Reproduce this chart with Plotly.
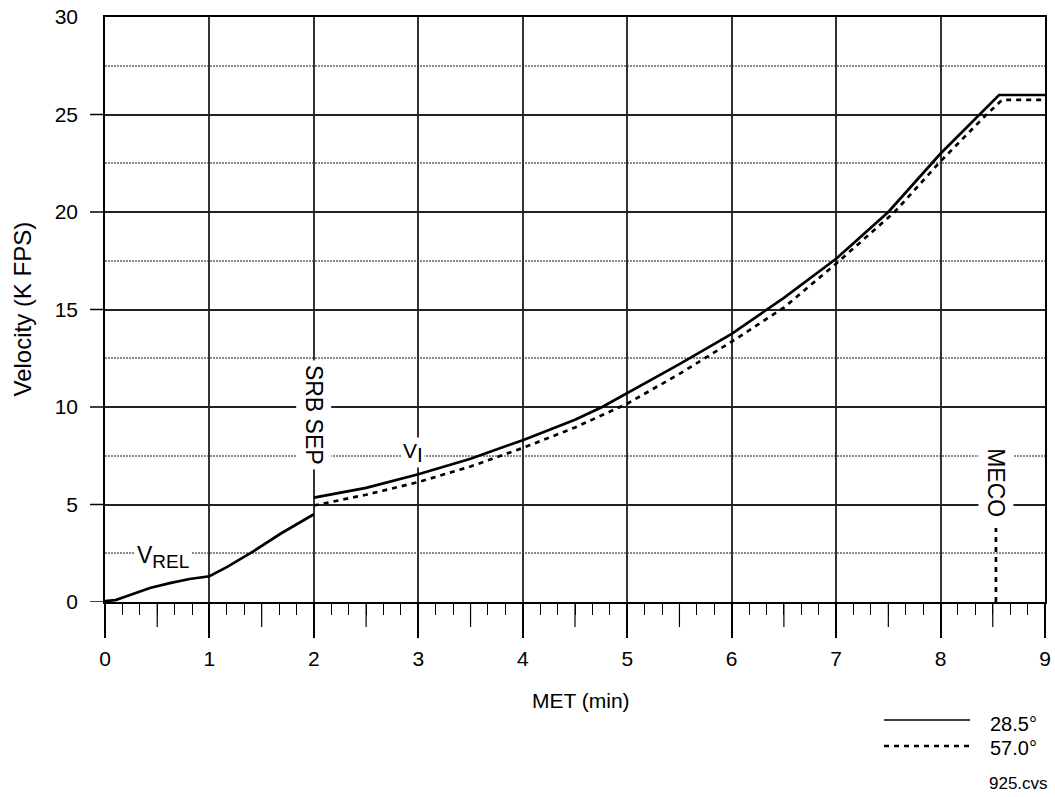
import plotly.graph_objects as go

# ---------------- data ----------------
# V_REL segment (both inclinations identical), 0 -> SRB SEP
vrel_t = [0.0, 0.1, 0.24, 0.43, 0.62, 0.81, 1.0, 1.17, 1.42, 1.68, 2.0]
vrel_v = [0.05, 0.1, 0.36, 0.72, 0.97, 1.18, 1.32, 1.8, 2.6, 3.5, 4.5]

# V_I, 28.5 deg (solid)
vi285_t = [2.0, 2.5, 3.0, 3.5, 4.0, 4.5, 4.76, 5.0, 5.5, 6.0, 6.5, 7.0, 7.5, 8.0, 8.39, 8.56, 9.0]
vi285_v = [5.35, 5.85, 6.55, 7.35, 8.3, 9.35, 10.0, 10.7, 12.2, 13.75, 15.6, 17.6, 20.0, 23.0, 25.1, 26.0, 26.0]

# V_I, 57.0 deg (dotted)
vi570_t = [2.0, 2.5, 3.0, 3.5, 4.0, 4.5, 5.0, 5.5, 6.0, 6.5, 7.0, 7.56, 8.0, 8.44, 8.59, 9.0]
vi570_v = [4.95, 5.5, 6.15, 6.95, 7.9, 8.95, 10.17, 11.7, 13.35, 15.1, 17.35, 20.0, 22.6, 25.0, 25.75, 25.75]

# MECO marker
meco_t = [8.53, 8.53]
meco_v = [0.0, 3.8]

x_ticks = list(range(0, 10))
y_ticks = [0, 5, 10, 15, 20, 25, 30]
y_tick_marks = [0, 5, 10, 15, 20, 25]
half_min_ticks = [k + 0.5 for k in range(9)]

legend_labels = ["28.5°", "57.0°"]

# ---------------- layout helpers ----------------
W, H = 1055, 797
ML, MR, MT, MB = 105, 10, 17, 195
PW, PH = W - ML - MR, H - MT - MB
FONT = "Liberation Sans, Arial, Helvetica, sans-serif"
DOTS = "5px,5px"


def px_x(p):
    return (p - ML) / PW


def px_y(p):
    return (H - MB - p) / PH


fig = go.Figure()

fig.add_trace(go.Scatter(x=vrel_t, y=vrel_v, mode="lines",
                         line=dict(color="black", width=2.7), hoverinfo="skip"))
fig.add_trace(go.Scatter(x=vi570_t, y=vi570_v, mode="lines",
                         line=dict(color="black", width=2.7, dash=DOTS), hoverinfo="skip"))
fig.add_trace(go.Scatter(x=vi285_t, y=vi285_v, mode="lines",
                         line=dict(color="black", width=2.7), hoverinfo="skip"))
fig.add_trace(go.Scatter(x=meco_t, y=meco_v, mode="lines",
                         line=dict(color="black", width=2.7, dash=DOTS), hoverinfo="skip"))

shapes = []
# y tick marks (15 px, none at 30)
for v in y_tick_marks:
    shapes.append(dict(type="line", xref="paper", yref="y", xsizemode="pixel", xanchor=0,
                       x0=-15, x1=0, y0=v, y1=v, line=dict(color="black", width=1.5)))
# half-minute ticks (medium length)
for t in half_min_ticks:
    shapes.append(dict(type="line", xref="x", yref="paper", ysizemode="pixel", yanchor=0,
                       y0=-25, y1=0, x0=t, x1=t, line=dict(color="black", width=1.2)))

# manual legend
shapes.append(dict(type="line", xref="paper", yref="paper", x0=px_x(884), x1=px_x(970),
                   y0=px_y(720), y1=px_y(720), line=dict(color="black", width=1.5)))
shapes.append(dict(type="line", xref="paper", yref="paper", x0=px_x(884), x1=px_x(970),
                   y0=px_y(746), y1=px_y(746), line=dict(color="black", width=2.6, dash=DOTS)))

annotations = [
    dict(text="V<sub><span style='font-size:19px'>REL</span></sub>", x=0.56, y=2.5,
         xref="x", yref="y", showarrow=False,
         font=dict(size=23, family=FONT, color="black"), bgcolor="white", yshift=-4, borderpad=2),
    dict(text="V<sub><span style='font-size:21px'>I</span></sub>", x=2.95, y=7.5,
         xref="x", yref="y", showarrow=False,
         font=dict(size=21, family=FONT, color="black"), bgcolor="white", yshift=3, borderpad=1),
    dict(text="SRB SEP", x=2.0, y=9.6, xref="x", yref="y", showarrow=False, textangle=90,
         font=dict(size=23, family=FONT, color="black"), bgcolor="white", borderpad=4),
    dict(text="MECO", x=8.53, y=6.1, xref="x", yref="y", showarrow=False, textangle=90,
         font=dict(size=23, family=FONT, color="black"), bgcolor="white", borderpad=4),
    dict(text="Velocity (K FPS)", x=px_x(22), y=0.5, xref="paper", yref="paper",
         showarrow=False, textangle=-90, xanchor="center", yanchor="middle",
         font=dict(size=24, family=FONT, color="black")),
    dict(text="MET (min)", x=px_x(581), y=px_y(700), xref="paper", yref="paper",
         showarrow=False, xanchor="center", yanchor="middle",
         font=dict(size=21, family=FONT, color="black")),
    dict(text=legend_labels[0], x=px_x(988), y=px_y(724), xref="paper", yref="paper",
         showarrow=False, xanchor="left", yanchor="middle",
         font=dict(size=20, family=FONT, color="black")),
    dict(text=legend_labels[1], x=px_x(988), y=px_y(748), xref="paper", yref="paper",
         showarrow=False, xanchor="left", yanchor="middle",
         font=dict(size=20, family=FONT, color="black")),
    dict(text="925.cvs", x=px_x(1050), y=px_y(783), xref="paper", yref="paper",
         showarrow=False, xanchor="right", yanchor="middle",
         font=dict(size=17, family=FONT, color="black")),
]

fig.update_layout(
    width=W, height=H,
    margin=dict(l=ML, r=MR, t=MT, b=MB, autoexpand=False),
    paper_bgcolor="white", plot_bgcolor="white",
    showlegend=False,
    font=dict(family=FONT, size=21, color="black"),
    shapes=shapes,
    annotations=annotations,
    xaxis=dict(
        range=[0, 9], tickmode="array", tickvals=x_ticks, ticktext=[str(v) for v in x_ticks],
        ticks="outside", ticklen=34, tickwidth=1.5, tickcolor="black",
        ticklabelstandoff=3, automargin=False,
        showline=True, linecolor="black", linewidth=1.5, mirror=True,
        showgrid=True, gridcolor="#333333", gridwidth=1.6, zeroline=False,
        tickfont=dict(size=21, family=FONT, color="black"),
        minor=dict(dtick=1 / 6, tick0=0, ticks="outside", ticklen=11, tickwidth=1.2,
                   tickcolor="black", showgrid=False),
        fixedrange=True,
    ),
    yaxis=dict(
        range=[0, 30], tickmode="array", tickvals=y_ticks, ticktext=[str(v) for v in y_ticks],
        ticks="", ticklabelstandoff=21, automargin=False,
        showline=True, linecolor="black", linewidth=1.5, mirror=True,
        showgrid=True, gridcolor="#222222", gridwidth=1.6, zeroline=False,
        tickfont=dict(size=21, family=FONT, color="black"),
        minor=dict(dtick=2.5, tick0=0, showgrid=True, gridcolor="#8a8a8a", gridwidth=1.5,
                   griddash="2px,1px", ticks=""),
        fixedrange=True,
    ),
)

fig.write_html("out.html", config={"displayModeBar": False},
               post_script="document.body.style.margin='0';")
